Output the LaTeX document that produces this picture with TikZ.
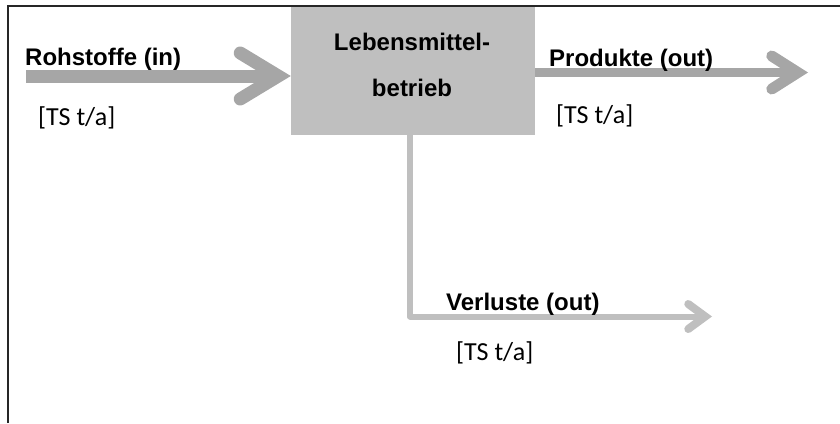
\documentclass[tikz,border=0pt]{standalone}
\usepackage{fontspec}
\setmainfont{Liberation Sans}
\newfontfamily\unitfont{Carlito}
\usetikzlibrary{arrows.meta,positioning}
\definecolor{flowgray}{HTML}{A6A6A6}
\definecolor{boxgray}{HTML}{BFBFBF}
\tikzset{
  heading/.style={font=\bfseries\fontsize{24}{46}\selectfont, inner sep=0pt, anchor=base west},
  unit/.style={font=\unitfont\fontsize{26}{30}\selectfont, inner sep=0pt, anchor=base west},
  betriebbox/.style={fill=boxgray, minimum width=244pt, minimum height=128pt, inner sep=0pt},
  inflow/.style={draw=flowgray, line width=13pt,
    -{Straight Barb[length=38pt, width=46pt, line width=13pt 0, line cap=round, line join=miter]}},
  outflow/.style={draw=flowgray, line width=9pt,
    -{Straight Barb[length=26pt, width=33pt, line width=11pt 0, line cap=round, line join=miter]}},
  lossflow/.style={draw=boxgray, line width=6pt, line join=round,
    -{Straight Barb[length=17pt, width=25pt, line width=8pt 0, line cap=round, line join=miter]}}
}
\begin{document}
\begin{tikzpicture}[x=1pt, y=-1pt]
   \useasboundingbox (0,0) rectangle (840,423);
   \draw[line width=2pt, black!85] (8,423) -- (8,6) -- (840,6);
   \node[betriebbox] (betrieb) at (413,71) {};
   \node[heading, anchor=center, align=center] (betriebtext) at (412,65.4) {Lebensmittel-\\betrieb};
   \coordinate (rohstoffeStart) at (26,76);
   \coordinate (produkteEnd) at (808,72.5);
   \coordinate (verlusteEnd) at (712,316.5);
   \draw[inflow] (rohstoffeStart) -- (rohstoffeStart -| betrieb.west);
   \draw[outflow] (produkteEnd -| betrieb.east) -- (produkteEnd);
   \draw[lossflow] ([xshift=-3pt]betrieb.south) |- (verlusteEnd);
   \node[heading] (rohstoffe) at (25,65) {Rohstoffe (in)};
   \node[heading] (produkte) at (549,66) {Produkte (out)};
   \node[heading] (verluste) at (446,310) {Verluste (out)};
   \node[unit] (rohstoffeUnit) at (38,125) {[TS t/a]};
   \node[unit] (produkteUnit) at (556,123) {[TS t/a]};
   \node[unit] (verlusteUnit) at (456,360) {[TS t/a]};
\end{tikzpicture}
\end{document}
